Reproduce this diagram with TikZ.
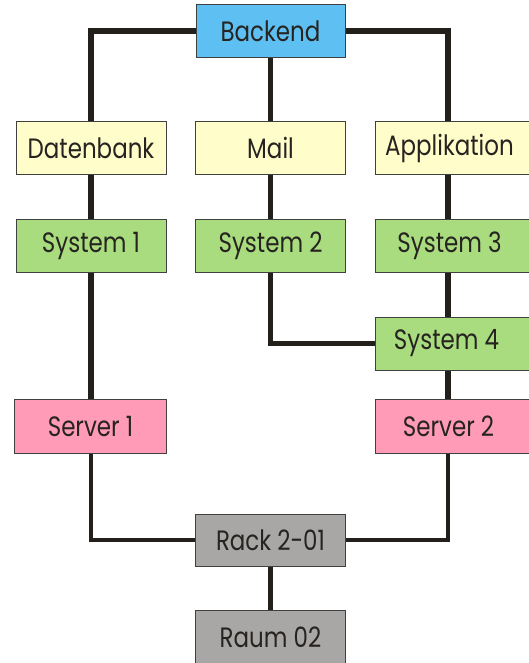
\documentclass[tikz,border=0pt]{standalone}
\usepackage{fontspec}
\setmainfont{Poppins}[FakeStretch=0.82]
\usetikzlibrary{backgrounds}
\definecolor{cblue}{HTML}{5EC0F2}
\definecolor{cyel}{HTML}{FFFDC9}
\definecolor{cgreen}{HTML}{A9DC7E}
\definecolor{cpink}{HTML}{FF9BB7}
\definecolor{cgrey}{HTML}{A8A7A6}
\definecolor{cline}{HTML}{231F1B}
\definecolor{ctext}{HTML}{262320}
\begin{document}
\begin{tikzpicture}[x=1pt,y=-1pt,
  box/.style={draw=black!75,line width=1pt,minimum height=53pt,inner sep=0pt,
     font=\fontsize{28}{30}\selectfont,text=ctext,anchor=center},
  w150/.style={minimum width=150pt},
  wr/.style={minimum width=155pt},
  conn/.style={draw=cline,line width=5.5pt},
  elbow/.style={draw=cline,line width=4.5pt}]
\useasboundingbox (0,0) rectangle (529,663);
\coordinate (lx) at (91,0);
\coordinate (rx) at (448,0);
\node[box,fill=cblue,minimum width=149pt] (backend) at (270.5,31) {Backend};
\node[box,w150,fill=cyel] (dat) at (91,148) {Datenbank};
\node[box,w150,fill=cyel] (mail) at (270.5,148) {Mail};
\node[box,wr,fill=cyel] (app) at (452.5,148) {\hspace*{-6pt}Applikation};
\node[box,w150,fill=cgreen] (s1) at (91,246) {System 1};
\node[box,w150,fill=cgreen] (s2) at (270.5,246) {System 2};
\node[box,wr,fill=cgreen] (s3) at (452.5,246) {\hspace*{-6pt}System 3};
\node[box,wr,fill=cgreen] (s4) at (452.5,343.5) {\hspace*{-12pt}System 4};
\node[box,minimum width=152pt,minimum height=54pt,fill=cpink] (sv1) at (90.5,426.5) {Server 1};
\node[box,wr,minimum height=54pt,fill=cpink] (sv2) at (452.5,426.5) {\hspace*{-8pt}Server 2};
\node[box,w150,minimum height=52pt,fill=cgrey] (rack) at (270.5,540) {Rack 2-01};
\node[box,w150,fill=cgrey] (raum) at (270.5,637) {Raum 02};
\begin{pgfonlayer}{background}
\draw[conn] (backend.west) -| (dat.north -| lx);
\draw[conn] (backend.east) -| (app.north -| rx);
\draw[conn] (backend.south) -- (mail.north);
\draw[conn] (dat.south -| lx) -- (s1.north -| lx);
\draw[conn] (mail.south) -- (s2.north);
\draw[conn] (app.south -| rx) -- (s3.north -| rx);
\draw[conn] (s1.south -| lx) -- (sv1.north -| lx);
\draw[conn] (s3.south -| rx) -- (s4.north -| rx);
\draw[conn] (s4.south -| rx) -- (sv2.north -| rx);
\draw[elbow] (s2.south) |- (s4.west);
\draw[elbow] (sv1.south -| lx) |- (rack.west);
\draw[elbow] (sv2.south -| rx) |- (rack.east);
\draw[conn] (rack.south) -- (raum.north);
\end{pgfonlayer}
\end{tikzpicture}
\end{document}
